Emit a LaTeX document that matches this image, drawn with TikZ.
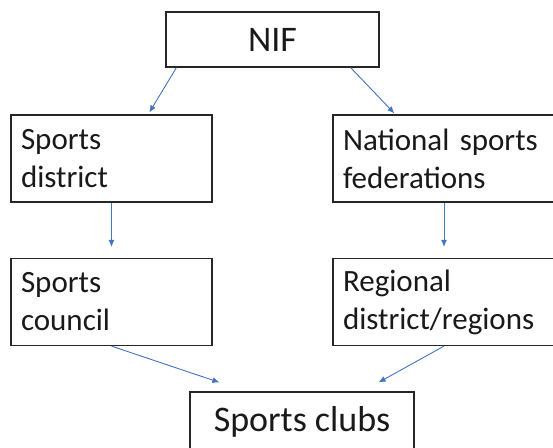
\documentclass[tikz,border=0pt]{standalone}
\usepackage{fontspec}
\setmainfont{Carlito}
\usepackage{tikz}
\usetikzlibrary{arrows.meta}

\definecolor{linkblue}{HTML}{4472C4}

\begin{document}
\begin{tikzpicture}[x=1pt,y=-1pt,
	box/.style={draw=black!85,line width=1.2pt,rectangle,inner sep=0pt,text=black!90},
	leftbox/.style={box,minimum height=87pt,text width=181pt,inner xsep=10pt,align=left,font=\fontsize{31}{38}\selectfont},
	bigbox/.style={box,font=\fontsize{36}{44}\selectfont},
	link/.style={draw=linkblue,line width=0.9pt,-{Latex[length=7pt,width=6pt]}}]
	\useasboundingbox (0,0) rectangle (553,447);
	\clip (0,0) rectangle (553,447);

	\node[bigbox,minimum width=213pt,minimum height=55pt] (nif) at (272.5,39.5) {NIF};

	\node[leftbox] (district) at (111.5,158.5) {Sports\\district};
	\node[leftbox] (council) at (111.5,302) {Sports\\council};
	\node[leftbox,text width=202pt] (national) at (444,158.5) {National sports\\federations};
	\node[leftbox,text width=202pt] (regional) at (444,302) {Regional\\district/regions};

	\node[bigbox,minimum width=224pt,minimum height=60pt] (clubs) at (302,422) {Sports clubs};

	\draw[link] ([xshift=11pt]nif.south west) -- ([xshift=139pt,yshift=2pt]district.north west);
	\draw[link] ([xshift=-29pt]nif.south east) -- ([xshift=62pt,yshift=1pt]national.north west);
	\draw[link] (district.south) -- ([yshift=11pt]council.north);
	\draw[link] (national.south) -- ([yshift=11pt]regional.north);
	\draw[link] (council.south) -- ([xshift=30pt,yshift=9pt]clubs.north west);
	\draw[link] (regional.south) -- ([xshift=-36pt,yshift=9pt]clubs.north east);
\end{tikzpicture}
\end{document}
